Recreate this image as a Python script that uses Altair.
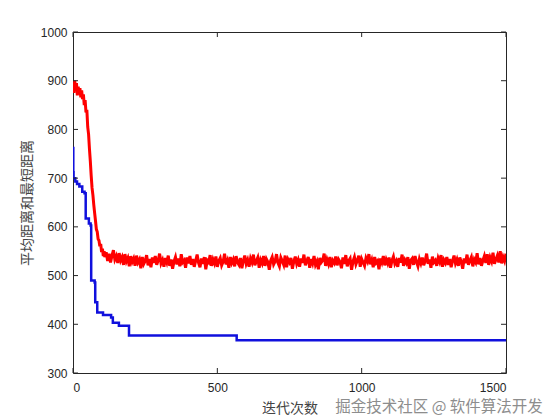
import altair as alt
import pandas as pd

# ---- data ----
x_ticks = [0, 500, 1000, 1500]
y_ticks = [300, 400, 500, 600, 700, 800, 900, 1000]

# shortest distance (blue, step-like)
blue_iter = [0, 1, 2, 8, 14, 22, 32, 40, 44, 55, 61, 63, 75, 77, 84, 104, 132, 138, 159, 194, 567, 1500]
blue_val = [762, 712, 700, 693, 688, 683, 672, 669, 617, 607, 603, 490, 486, 445, 424, 419, 414, 403, 397, 377, 367, 367]

# average distance (red, noisy)
red_head_iter = list(range(0, 109, 3))
red_head_val = [890, 875, 900, 880, 895, 870, 888, 872, 885, 866, 880, 862, 872, 850, 860, 835, 840,
                805, 790, 760, 735, 705, 680, 665, 645, 628, 612, 595, 590, 575, 572, 560, 565, 548,
                555, 540, 550]
red_tail_iter = list(range(110, 1501, 5))
red_tail_val = [
    538, 548, 530, 545, 527, 541, 552, 533, 540, 526, 546, 531, 538, 522, 544, 529, 536, 519, 540, 528,
    535, 520, 541, 527, 533, 515, 538, 524, 530, 542, 521, 534, 517, 537, 526, 540, 522, 531, 545, 525,
    532, 518, 536, 527, 541, 520, 533, 514, 529, 538, 523, 535, 519, 544, 527, 531, 516, 537, 525, 540,
    522, 534, 518, 530, 543, 526, 517, 535, 524, 538, 513, 531, 527, 542, 520, 533, 525, 539, 518, 530,
    536, 521, 528, 545, 523, 531, 516, 538, 526, 533, 519, 540, 527, 522, 536, 515, 530, 541, 524, 532,
    518, 535, 527, 543, 521, 530, 537, 516, 532, 525, 540, 520, 534, 528, 512, 531, 538, 523, 529, 544,
    526, 519, 537, 530, 522, 541, 517, 533, 527, 536, 514, 529, 539, 524, 532, 518, 535, 526, 543, 521,
    530, 538, 516, 534, 525, 540, 522, 529, 513, 536, 527, 531, 545, 520, 533, 524, 538, 517, 531, 526,
    539, 521, 533, 528, 515, 537, 524, 542, 519, 530, 535, 512, 529, 538, 523, 531, 541, 518, 534, 527,
    520, 536, 529, 544, 523, 532, 517, 538, 526, 530, 513, 535, 527, 540, 521, 533, 525, 537, 516, 531,
    539, 524, 530, 518, 536, 527, 543, 520, 532, 526, 538, 514, 531, 535, 522, 540, 528, 519, 534, 525,
    537, 521, 530, 545, 524, 533, 516, 539, 527, 531, 520, 536, 528, 542, 518, 532, 526, 538, 522, 534,
    517, 530, 541, 525, 533, 520, 537, 528, 514, 535, 526, 543, 522, 531, 538, 519, 533, 527, 546, 523,
    536, 520, 531, 540, 526, 544, 522, 537, 529, 547, 524, 533, 541, 527, 550, 525, 538, 530, 545,
]

x_title = "迭代次数"
y_title = "平均距离和最短距离"
watermark = "掘金技术社区 @ 软件算法开发"

# ---- tables ----
blue_df = pd.DataFrame({"x": blue_iter, "y": blue_val})
red_df = pd.DataFrame({"x": red_head_iter + red_tail_iter, "y": red_head_val + red_tail_val})
xt_df = pd.DataFrame({"x": x_ticks})
yt_df = pd.DataFrame({"y": y_ticks})
wm_df = pd.DataFrame({"t": [watermark]})

W, H = 433, 341
TICK = 5
INK = "#262626"

xs = alt.Scale(domain=[0, 1500], nice=False, zero=False)
ys = alt.Scale(domain=[300, 1000], nice=False, zero=False)

x_axis = alt.Axis(values=x_ticks, format="d", ticks=False, domain=False, grid=False, labelPadding=9,
                  title=x_title, titleX=W / 2, titleY=35, titleBaseline="middle", titleAlign="center")
y_axis = alt.Axis(values=y_ticks, format="d", ticks=False, domain=False, grid=False, labelPadding=6,
                  title=y_title, titleX=-46, titleY=H / 2, titleAngle=-90,
                  titleBaseline="middle", titleAlign="center")

X = alt.X("x:Q", scale=xs, axis=x_axis)
Y = alt.Y("y:Q", scale=ys, axis=y_axis)

red = alt.Chart(red_df).mark_line(color="#ff0000", strokeWidth=3, clip=True).encode(x=X, y=Y)
blue = alt.Chart(blue_df).mark_line(color="#1010dd", strokeWidth=2.5, interpolate="step-after",
                                     clip=True).encode(x=X, y=Y)

tick_bottom = alt.Chart(xt_df).mark_rule(color=INK, strokeWidth=1).encode(
    x=X, y=alt.value(H), y2=alt.value(H - TICK))
tick_top = alt.Chart(xt_df).mark_rule(color=INK, strokeWidth=1).encode(
    x=X, y=alt.value(0), y2=alt.value(TICK))
tick_left = alt.Chart(yt_df).mark_rule(color=INK, strokeWidth=1).encode(
    y=Y, x=alt.value(0), x2=alt.value(TICK))
tick_right = alt.Chart(yt_df).mark_rule(color=INK, strokeWidth=1).encode(
    y=Y, x=alt.value(W), x2=alt.value(W - TICK))

wm = alt.Chart(wm_df).mark_text(font="Noto Sans CJK SC", fontSize=15.5, color="#7a7a7a", opacity=0.85,
                                align="center", baseline="middle").encode(
    text="t:N", x=alt.value(366), y=alt.value(375))

chart = alt.layer(blue, red, tick_bottom, tick_top, tick_left, tick_right, wm).properties(
    width=W, height=H,
    autosize=alt.AutoSizeParams(type="none"),
    padding={"left": 73, "top": 32, "right": 560 - 73 - W, "bottom": 420 - 32 - H},
    background="white",
).configure_view(stroke=INK, strokeWidth=1).configure_axis(
    labelFont="Liberation Sans", labelFontSize=12, labelColor=INK,
    titleFont="Noto Sans CJK SC", titleFontSize=14, titleFontWeight="normal", titleColor="#444444",
)

chart.save("out.html", embed_options={"renderer": "svg", "actions": False})
